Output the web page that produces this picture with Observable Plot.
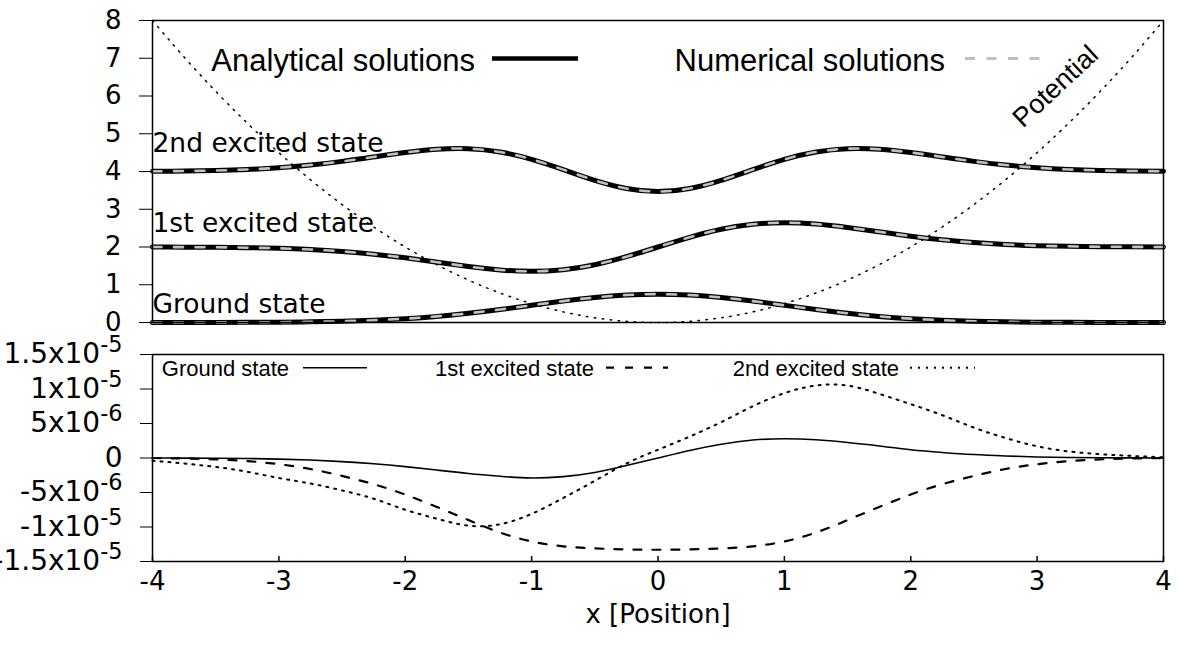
<!DOCTYPE html>
<html>
<head>
<meta charset="utf-8">
<script src="https://cdn.jsdelivr.net/npm/d3@7"></script>
<script src="https://cdn.jsdelivr.net/npm/@observablehq/plot@0.6"></script>
<style>
  html, body { margin: 0; padding: 0; background: #fff; }
  body { width: 1180px; height: 659px; position: relative; overflow: hidden; font-family: "DejaVu Sans", sans-serif; }
  #top, #bottom { position: absolute; left: 0; }
  #top { top: 0; }
  #bottom { top: 340px; }
</style>
</head>
<body>
<div id="top"></div>
<div id="bottom"></div>
<script>
// ---------- data ----------
const xs = [-4,-3.75,-3.5,-3.25,-3,-2.75,-2.5,-2.25,-2,-1.75,-1.5,-1.25,-1,-0.75,-0.5,-0.25,0,0.25,0.5,0.75,1,1.25,1.5,1.75,2,2.25,2.5,2.75,3,3.25,3.5,3.75,4];
const potential = [8,7.031,6.125,5.281,4.5,3.781,3.125,2.531,2,1.531,1.125,0.781,0.5,0.281,0.125,0.031,0,0.031,0.125,0.281,0.5,0.781,1.125,1.531,2,2.531,3.125,3.781,4.5,5.281,6.125,7.031,8];
const groundState = [0.000,0.001,0.002,0.004,0.008,0.017,0.033,0.060,0.102,0.162,0.244,0.344,0.456,0.567,0.663,0.728,0.751,0.728,0.663,0.567,0.456,0.344,0.244,0.162,0.102,0.060,0.033,0.017,0.008,0.004,0.002,0.001,0.000];
const firstExcited = [1.999,1.996,1.992,1.982,1.965,1.933,1.883,1.810,1.713,1.598,1.483,1.392,1.356,1.399,1.531,1.743,2.000,2.257,2.469,2.601,2.644,2.608,2.517,2.402,2.287,2.190,2.117,2.067,2.035,2.018,2.008,2.004,2.001];
const secondExcited = [4.006,4.013,4.027,4.054,4.100,4.171,4.268,4.386,4.503,4.589,4.604,4.517,4.322,4.050,3.766,3.550,3.469,3.550,3.766,4.050,4.322,4.517,4.604,4.589,4.503,4.386,4.268,4.171,4.100,4.054,4.027,4.013,4.006];
// numerical solutions (visually identical to the analytical ones)
const groundNumerical = groundState.slice();
const firstNumerical = firstExcited.slice();
const secondNumerical = secondExcited.slice();

// errors, in units of 1e-6
const errGround = [0,-0.02,-0.04,-0.08,-0.16,-0.3,-0.52,-0.83,-1.25,-1.75,-2.25,-2.65,-2.9,-2.7,-2.1,-1.1,0,1.1,2.0,2.6,2.8,2.65,2.25,1.75,1.2,0.8,0.5,0.3,0.15,0.08,0.04,0.02,0];
const errFirst = [0,-0.08,-0.2,-0.45,-0.9,-1.6,-2.6,-3.8,-5.3,-7.1,-9.0,-10.8,-12.1,-12.8,-13.1,-13.25,-13.3,-13.25,-13.1,-12.8,-12.1,-10.8,-9.0,-7.1,-5.3,-3.8,-2.6,-1.6,-0.9,-0.45,-0.2,-0.08,0];
const errSecond = [-0.4,-0.8,-1.3,-2.0,-2.9,-3.7,-4.7,-5.9,-7.5,-8.8,-9.8,-9.6,-8.1,-5.8,-3.3,-0.8,1.2,3.1,5.2,7.5,9.4,10.5,10.5,9.3,7.8,6.2,4.4,2.9,1.7,0.95,0.55,0.3,0.1];

const stateNames = ["Ground state", "1st excited state", "2nd excited state"];
const topLegendLabels = ["Analytical solutions", "Numerical solutions"];
const potentialLabel = "Potential";
const xLabel = "x [Position]";
const topYTicks = [0,1,2,3,4,5,6,7,8];
const xTicks = [-4,-3,-2,-1,0,1,2,3,4];
const xTickLabels = ["-4","-3","-2","-1","0","1","2","3","4"];
const bottomYTicks = [15,10,5,0,-5,-10,-15];
const bottomYTickLabels = ["1.5x10\u207B\u2075","1x10\u207B\u2075","5x10\u207B\u2076","0","-5x10\u207B\u2076","-1x10\u207B\u2075","-1.5x10\u207B\u2075"];

// ---------- tables ----------
const topRows = xs.map((x, i) => ({x, potential: potential[i], g: groundState[i], f: firstExcited[i], s: secondExcited[i],
  gn: groundNumerical[i], fn: firstNumerical[i], sn: secondNumerical[i]}));
const errRows = xs.map((x, i) => ({x, g: errGround[i], f: errFirst[i], s: errSecond[i]}));

const LEG_FONT = "'Liberation Sans', Arial, sans-serif";
function legendMark(entries) {
  return () => {
    const g = d3.create("svg:g");
    for (const e of entries) {
      g.append("text")
        .attr("x", e.tx).attr("y", e.ty).attr("dy", "0.35em")
        .attr("text-anchor", "end")
        .attr("font-family", LEG_FONT).attr("font-size", e.size)
        .attr("fill", "black").text(e.label);
      g.append("line")
        .attr("x1", e.x1).attr("x2", e.x2).attr("y1", e.ly).attr("y2", e.ly)
        .attr("stroke", e.stroke).attr("stroke-width", e.width)
        .attr("stroke-dasharray", e.dash || null);
    }
    return g.node();
  };
}

// ---------- top panel ----------
const stateKeys = [["g","gn"],["f","fn"],["s","sn"]];
const topMarks = [
  Plot.line(topRows, {x: "x", y: "potential", stroke: "black", strokeWidth: 1.5, strokeDasharray: "1.5,6.5", curve: "natural"})
];
for (const [a, n] of stateKeys) {
  topMarks.push(Plot.line(topRows, {x: "x", y: a, stroke: "black", strokeWidth: 5, curve: "natural"}));
  topMarks.push(Plot.line(topRows, {x: "x", y: n, stroke: "#c0c0c0", strokeWidth: 2.6, strokeDasharray: "9,12.5", curve: "natural"}));
}
const stateLabelDy = [284, 203, 123];
stateNames.forEach((name, i) => {
  topMarks.push(Plot.text([name], {frameAnchor: "top-left", dx: 0, dy: stateLabelDy[i], textAnchor: "start", lineAnchor: "middle",
    fontFamily: "DejaVu Sans", fontSize: 26.5, fill: "black"}));
});
topMarks.push(Plot.text([potentialLabel], {frameAnchor: "top-left", dx: 903, dy: 66, rotate: -43,
  textAnchor: "middle", lineAnchor: "middle",
  fontFamily: LEG_FONT, fontSize: 27, fill: "black"}));
topMarks.push(legendMark([
  {label: topLegendLabels[0], tx: 475, ty: 60, x1: 492, x2: 578, ly: 58.5, stroke: "black", width: 4.5, size: 31},
  {label: topLegendLabels[1], tx: 945, ty: 60, x1: 965, x2: 1045, ly: 58.5, stroke: "#c0c0c0", width: 2.8, dash: "10,11.5", size: 31}
]));
topMarks.push(Plot.axisY(topYTicks, {tickSize: 13, tickPadding: 18, label: null}));
topMarks.push(Plot.frame({stroke: "black", strokeWidth: 1.5}));

const topPlot = Plot.plot({
  width: 1180, height: 340,
  marginLeft: 152, marginRight: 17, marginTop: 20, marginBottom: 18,
  style: {fontFamily: "DejaVu Sans", fontSize: "26px", color: "black", background: "white"},
  x: {domain: [-4, 4], axis: null},
  y: {domain: [0, 8], axis: null},
  marks: topMarks
});
document.getElementById("top").appendChild(topPlot);

// ---------- bottom panel ----------
const bottomPlot = Plot.plot({
  width: 1180, height: 319,
  marginLeft: 152, marginRight: 17, marginTop: 14, marginBottom: 98,
  style: {fontFamily: "DejaVu Sans", fontSize: "26px", color: "black", background: "transparent", overflow: "visible"},
  x: {domain: [-4, 4], axis: null},
  y: {domain: [-15, 15], axis: null},
  marks: [
    Plot.line(errRows, {x: "x", y: "g", stroke: "black", strokeWidth: 1.6, curve: "natural"}),
    Plot.line(errRows, {x: "x", y: "f", stroke: "black", strokeWidth: 2.2, strokeDasharray: "8,11", curve: "natural"}),
    Plot.line(errRows, {x: "x", y: "s", stroke: "black", strokeWidth: 2, strokeDasharray: "2,6", curve: "natural"}),
    legendMark([
      {label: stateNames[0], tx: 289, ty: 28, x1: 303, x2: 367, ly: 27.7, stroke: "black", width: 1.6, size: 22},
      {label: stateNames[1], tx: 594, ty: 28, x1: 606, x2: 668, ly: 27.7, stroke: "black", width: 2.2, dash: "8,11", size: 22},
      {label: stateNames[2], tx: 899, ty: 28, x1: 910, x2: 975, ly: 27.7, stroke: "black", width: 2, dash: "2,6", size: 22}
    ]),
    Plot.axisY(bottomYTicks, {tickSize: 12, tickPadding: 18, label: null, fontSize: 28,
      tickFormat: d => bottomYTickLabels[bottomYTicks.indexOf(d)]}),
    Plot.axisX(xTicks, {tickSize: 0, tickPadding: 10, label: null,
      tickFormat: d => xTickLabels[xTicks.indexOf(d)]}),
    Plot.tickX(xTicks, {x: d => d, stroke: "black", strokeWidth: 1.5, insetTop: 202}),
    Plot.text([xLabel], {frameAnchor: "bottom", dy: 53, lineAnchor: "middle", fontFamily: "DejaVu Sans", fontSize: 26, fill: "black"}),
    Plot.frame({stroke: "black", strokeWidth: 1.5})
  ]
});
document.getElementById("bottom").appendChild(bottomPlot);

// render Unicode superscripts of the tick labels as raised, smaller text
const supMap = {"\u207B": "-", "\u2075": "5", "\u2076": "6"};
d3.select(bottomPlot).selectAll("text").each(function () {
  if (this.querySelector("tspan")) return;
  const t = this.textContent;
  const m = t.match(/^(.*?)([\u207B\u2075\u2076]+)$/);
  if (!m) return;
  const sel = d3.select(this);
  sel.text(null);
  sel.append("tspan").text(m[1]);
  sel.append("tspan").attr("dy", "-0.5em").attr("font-size", "80%")
    .text([...m[2]].map(c => supMap[c]).join(""));
});
</script>
</body>
</html>
